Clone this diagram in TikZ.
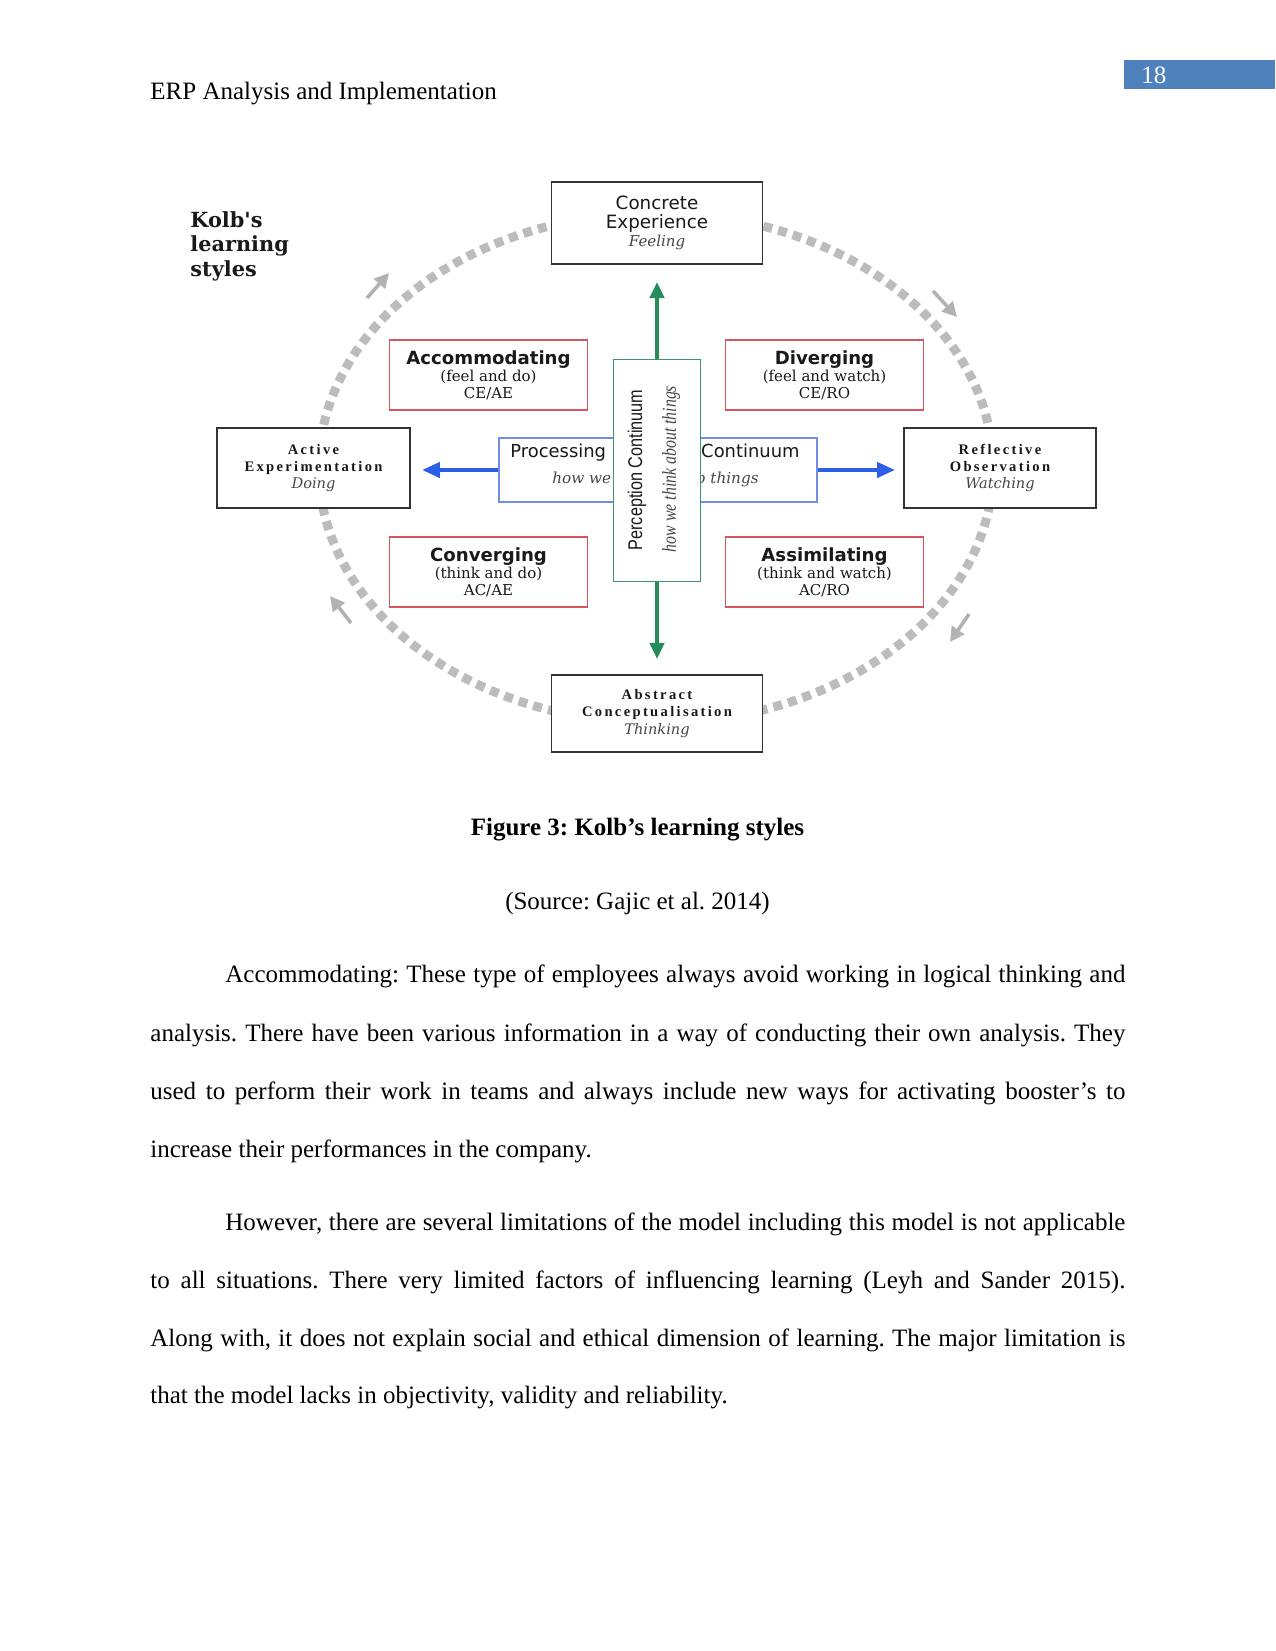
\documentclass[tikz,border=0pt]{standalone}
\usepackage{fontspec}
\setmainfont{Liberation Serif}
\newfontfamily\dvs{DejaVu Sans}
\newfontfamily\dvsr{DejaVu Serif}
\newfontfamily\lsansn[FakeStretch=0.82]{Liberation Sans}
\newfontfamily\lserifn[FakeStretch=0.8]{Liberation Serif}
\newfontfamily\spcd[LetterSpace=16]{Liberation Serif}
\newcommand\kttl{\dvs\bfseries\fontsize{8.7}{8.2}\selectfont}
\usetikzlibrary{arrows.meta}
\definecolor{pnblue}{RGB}{79,129,189}
\definecolor{ringgray}{RGB}{188,188,188}
\definecolor{arrgray}{RGB}{178,178,178}
\definecolor{boxred}{RGB}{214,86,96}
\definecolor{boxblue}{RGB}{112,142,232}
\definecolor{boxgreen}{RGB}{60,150,110}
\definecolor{arrgreen}{RGB}{40,140,90}
\definecolor{arrblue}{RGB}{45,95,230}
\definecolor{txt}{RGB}{25,25,25}
\definecolor{itxt}{RGB}{70,70,70}
\frenchspacing
\begin{document}
\begin{tikzpicture}[x=0.48pt,y=-0.48pt,
  body/.style={font=\fontsize{12}{14}\selectfont, inner sep=0pt, anchor=base west},
  bodyc/.style={font=\fontsize{12}{14}\selectfont, inner sep=0pt, anchor=base},
  blackbox/.style={draw=black!80, line width=0.9pt, fill=white, align=center, inner sep=0pt, text=txt},
  redbox/.style={draw=boxred, line width=0.9pt, fill=white, align=center, inner sep=0pt, text=txt,
    minimum width=95pt, minimum height=33.6pt, font=\dvsr\fontsize{7.2}{8.2}\selectfont},
  ringstyle/.style={draw=ringgray, line width=4.3pt, dash pattern=on 4.3pt off 3pt},
  cyclearrow/.style={draw=arrgray, line width=1.7pt, -{Triangle[length=7pt,width=7pt]}},
  greenarrow/.style={draw=arrgreen, line width=2pt, -{Triangle[length=7.7pt,width=6.8pt]}},
  bluearrow/.style={draw=arrblue, line width=2pt, -{Triangle[length=8.6pt,width=7.2pt]}},
  plain/.style={inner sep=0pt}
]
\useasboundingbox (0,0) rectangle (1275,1651);
\fill[white] (0,0) rectangle (1275,1651);

% header
\node[body] (hdr) at (150,100) {ERP Analysis and Implementation};
\node[fill=pnblue, anchor=north west, inner sep=0pt, minimum width=72.5pt, minimum height=13.9pt] (pnbox) at (1124,60) {};
\node[body, text=white] (pnum) at (1141,84) {18};

% title
\node[plain, anchor=north west, align=left, text=txt, font=\dvsr\bfseries\fontsize{10}{11.8}\selectfont] (kolb) at (190,211) {Kolb's\\learning\\styles};

% ring
\draw[ringstyle] (656,468) ellipse [x radius=161.8pt, y radius=122.4pt];

% cycle arrows
\coordinate (tls) at (367,298); \coordinate (tle) at (389,273);
\coordinate (trs) at (933,291); \coordinate (tre) at (957,317);
\coordinate (brs) at (969,614); \coordinate (bre) at (950,642);
\coordinate (bls) at (351,623); \coordinate (ble) at (330,596);
\draw[cyclearrow] (tls) -- (tle);
\draw[cyclearrow] (trs) -- (tre);
\draw[cyclearrow] (brs) -- (bre);
\draw[cyclearrow] (bls) -- (ble);

% mode boxes
\node[blackbox, minimum width=101.3pt, minimum height=39pt, font=\dvs\fontsize{8.8}{8.9}\selectfont] (ce) at (657,223)
  {Concrete\\Experience\\{\dvsr\itshape\fontsize{7.2}{8.9}\selectfont\color{itxt}Feeling}};
\node[blackbox, minimum width=101.3pt, minimum height=37pt, font=\spcd\bfseries\fontsize{7}{8.2}\selectfont] (acn) at (657,713.5)
  {Abstract\\Conceptualisation\\{\dvsr\mdseries\itshape\color{itxt}Thinking}};
\node[blackbox, minimum width=92.6pt, minimum height=38pt, font=\spcd\bfseries\fontsize{7}{8}\selectfont] (ae) at (313.5,468)
  {Active\\Experimentation\\{\dvsr\mdseries\itshape\color{itxt}Doing}};
\node[blackbox, minimum width=92pt, minimum height=38pt, font=\spcd\bfseries\fontsize{7}{8}\selectfont] (ro) at (1000,468)
  {Reflective\\Observation\\{\dvsr\mdseries\itshape\color{itxt}Watching}};

% style boxes
\node[redbox] (acc) at (488.5,375) {{\kttl Accommodating}\\(feel and do)\\CE/AE};
\node[redbox] (div) at (824.5,375) {{\kttl Diverging}\\(feel and watch)\\CE/RO};
\node[redbox] (con) at (488.5,572) {{\kttl Converging}\\(think and do)\\AC/AE};
\node[redbox] (ass) at (824.5,572) {{\kttl Assimilating}\\(think and watch)\\AC/RO};

% processing continuum
\node[draw=boxblue, line width=0.9pt, fill=white, minimum width=152.6pt, minimum height=30.7pt, inner sep=0pt] (proc) at (658,470) {};
\node[plain, anchor=base west, font=\dvs\fontsize{8.6}{10}\selectfont, text=txt] (procl) at (510,457) {Processing};
\node[plain, anchor=base east, font=\dvs\fontsize{8.6}{10}\selectfont, text=txt] (procr) at (800,457) {Continuum};
\node[plain, anchor=base west, font=\dvsr\itshape\fontsize{7.3}{9}\selectfont, text=itxt] (howl) at (552,483) {how we};
\node[plain, anchor=base east, font=\dvsr\itshape\fontsize{7.3}{9}\selectfont, text=itxt] (howr) at (759,483) {do things};

% perception continuum
\node[draw=boxgreen, line width=0.9pt, fill=white, minimum width=41.8pt, minimum height=106.6pt, inner sep=0pt] (perc) at (657,470.5) {};
\node[plain, rotate=90, font=\lsansn\fontsize{9.5}{10}\selectfont, text=txt] (pc1) at (637,470) {Perception Continuum};
\node[plain, rotate=90, font=\lserifn\itshape\fontsize{9.5}{10}\selectfont, text=itxt] (pc2) at (671,469) {how we think about things};

% axis arrows
\coordinate (gup) at (657,282);
\coordinate (gdn) at (657,659);
\coordinate (bl) at (422,470);
\coordinate (br) at (895,470);
\draw[greenarrow] (perc.north) -- (gup);
\draw[greenarrow] (perc.south) -- (gdn);
\draw[bluearrow] (proc.west) -- (bl);
\draw[bluearrow] (proc.east) -- (br);

% caption
\node[bodyc, font=\bfseries\fontsize{12}{14}\selectfont] (cap) at (637.5,835) {Figure 3: Kolb’s learning styles};
\node[bodyc] (src) at (637.5,909) {(Source: Gajic et al. 2014)};

% paragraph 1
\node[body] (p1a) at (225,982) {\makebox[432pt][s]{Accommodating: These type of employees always avoid working in logical thinking and}};
\node[body] (p1b) at (150,1041) {\makebox[468pt][s]{analysis. There have been various information in a way of conducting their own analysis. They}};
\node[body] (p1c) at (150,1099) {\makebox[468pt][s]{used to perform their work in teams and always include new ways for activating booster’s to}};
\node[body] (p1d) at (150,1157) {increase their performances in the company.};

% paragraph 2
\node[body] (p2a) at (225,1230) {\makebox[432pt][s]{However, there are several limitations of the model including this model is not applicable}};
\node[body] (p2b) at (150,1288) {\makebox[468pt][s]{to all situations. There very limited factors of influencing learning (Leyh and Sander 2015).}};
\node[body] (p2c) at (150,1346) {\makebox[468pt][s]{Along with, it does not explain social and ethical dimension of learning. The major limitation is}};
\node[body] (p2d) at (150,1403) {that the model lacks in objectivity, validity and reliability.};
\end{tikzpicture}
\end{document}
